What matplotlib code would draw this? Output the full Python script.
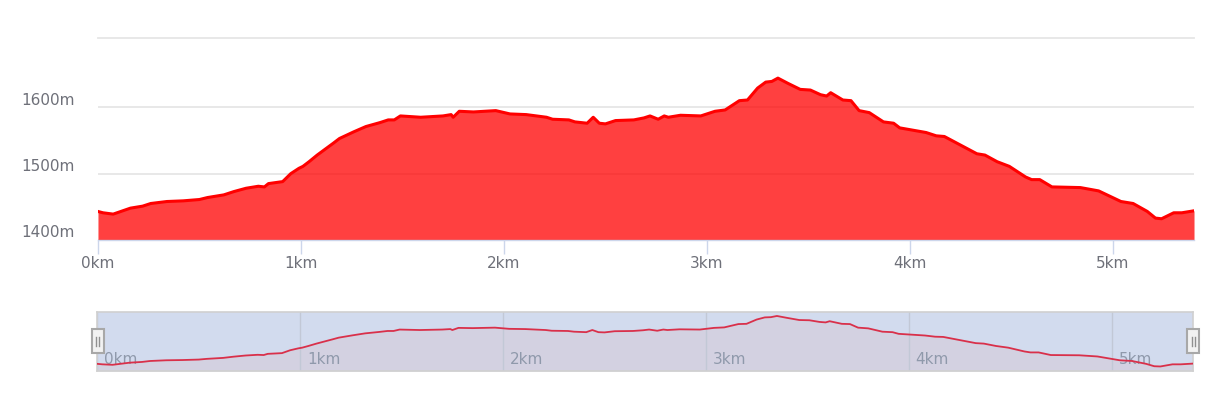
import numpy as np
import matplotlib
matplotlib.use("Agg")
import matplotlib.pyplot as plt
from matplotlib.patches import Rectangle
from matplotlib.transforms import ScaledTranslation

# elevation profile (distance in km, elevation in m)
dist_km = [0.00, 0.025, 0.075, 0.16, 0.22, 0.26, 0.34, 0.42, 0.50, 0.54,
           0.62, 0.67, 0.73, 0.79, 0.82, 0.84, 0.91, 0.95, 0.99, 1.01,
           1.04, 1.08, 1.16, 1.19, 1.26, 1.32, 1.39, 1.43, 1.46, 1.49,
           1.54, 1.59, 1.70, 1.74, 1.75, 1.78, 1.85, 1.96, 2.03, 2.11,
           2.21, 2.24, 2.32, 2.35, 2.41, 2.44, 2.47, 2.50, 2.55, 2.64,
           2.69, 2.72, 2.76, 2.79, 2.81, 2.87, 2.97, 3.04, 3.09, 3.12,
           3.16, 3.20, 3.25, 3.29, 3.32, 3.35, 3.40, 3.46, 3.51, 3.56,
           3.59, 3.61, 3.67, 3.71, 3.75, 3.80, 3.87, 3.92, 3.95, 4.08,
           4.13, 4.17, 4.33, 4.37, 4.43, 4.49, 4.57, 4.60, 4.64, 4.70,
           4.84, 4.93, 5.04, 5.10, 5.17, 5.21, 5.24, 5.30, 5.34, 5.40]
elev_m = [1443, 1441, 1439, 1448, 1451, 1455, 1458, 1459, 1461, 1464,
          1468, 1473, 1478, 1481, 1480, 1485, 1488, 1500, 1508, 1511,
          1518, 1528, 1546, 1553, 1563, 1571, 1577, 1581, 1581, 1587,
          1586, 1585, 1587, 1589, 1585, 1594, 1593, 1595, 1590, 1589,
          1585, 1582, 1581, 1578, 1576, 1585, 1576, 1575, 1580, 1581,
          1584, 1587, 1582, 1587, 1585, 1588, 1587, 1594, 1596, 1602,
          1610, 1611, 1629, 1638, 1639, 1644, 1636, 1627, 1626, 1619,
          1617, 1622, 1611, 1610, 1595, 1592, 1578, 1576, 1569, 1562,
          1557, 1556, 1530, 1528, 1518, 1511, 1495, 1491, 1491, 1480,
          1479, 1474, 1458, 1455, 1443, 1433, 1432, 1441, 1441, 1444]

km_ticks = [0, 1, 2, 3, 4, 5]
km_labels = ['0km', '1km', '2km', '3km', '4km', '5km']
elev_ticks = [1400, 1500, 1600]
elev_labels = ['1400m', '1500m', '1600m']
x_max = 5.40
y_min, y_max = 1400, 1704

fig = plt.figure(figsize=(12.23, 3.97), dpi=100)

# --- main elevation chart ---
ax = fig.add_axes([0.0801, 0.3955, 0.8962, 0.508])
ax.fill_between(dist_km, elev_m, y_min, color='red', alpha=0.75, lw=0, zorder=2)
ax.plot(dist_km, elev_m, color='red', lw=2.2, solid_joinstyle='round', zorder=3)
ax.set_xlim(0, x_max)
ax.set_ylim(y_min, y_max)

ax.set_yticks(elev_ticks)
ax.set_yticklabels(elev_labels)
ax.set_xticks(km_ticks)
ax.set_xticklabels(km_labels)
ax.yaxis.grid(True, color='#e6e6e6', lw=1.3, zorder=0)
ax.set_axisbelow(True)

for side in ('left', 'right'):
    ax.spines[side].set_visible(False)
ax.spines['top'].set_color('#e6e6e6')
ax.spines['top'].set_linewidth(1.3)
ax.spines['bottom'].set_color('#ccd6eb')
ax.spines['bottom'].set_linewidth(1)

ax.tick_params(axis='y', length=0, pad=17, labelsize=11, labelcolor='#6e7079')
ax.tick_params(axis='x', length=10, width=1, color='#ccd6eb', pad=1.5,
               labelsize=11, labelcolor='#6e7079')
shift_up = ScaledTranslation(0, 8.5 / 100, fig.dpi_scale_trans)
for lab in ax.get_yticklabels():
    lab.set_transform(lab.get_transform() + shift_up)

# --- zoom slider with data preview ---
ax2 = fig.add_axes([0.0796, 0.0655, 0.8957, 0.1494])
ax2.set_facecolor('#d2dbee')
ax2.set_xlim(0, x_max)
ax2.set_ylim(1413, 1662)
ax2.fill_between(dist_km, elev_m, 1413, color='#d3d1e1', lw=0, zorder=1)
ax2.plot(dist_km, elev_m, color='#d9304a', lw=1.3, zorder=3)
for k, lab in zip(km_ticks, km_labels):
    ax2.axvline(k, color='#c2c8d6', lw=1, zorder=2)
    ax2.annotate(lab, (k, 0.2), xycoords=('data', 'axes fraction'),
                 xytext=(5, 0), textcoords='offset points',
                 ha='left', va='center', fontsize=11, color='#8f99ab', zorder=2)
ax2.set_xticks([])
ax2.set_yticks([])
for sp in ax2.spines.values():
    sp.set_color('#d0d0d0')
    sp.set_linewidth(1.2)


def draw_handle(axis, x0):
    w, h, y0 = 0.011, 0.405, 0.298
    axis.add_patch(Rectangle((x0, y0), w, h, transform=axis.transAxes,
                             facecolor='#f2f2f2', edgecolor='#a8a8a8', lw=1.5,
                             clip_on=False, zorder=5))
    cx = x0 + w / 2
    for dx in (-0.0014, 0.0014):
        axis.plot([cx + dx, cx + dx], [y0 + h * 0.3, y0 + h * 0.7],
                  transform=axis.transAxes, color='#909090', lw=1,
                  clip_on=False, zorder=6)


draw_handle(ax2, -0.0051)
draw_handle(ax2, 0.9949)

fig.savefig('out.png', dpi=100, facecolor='white')
